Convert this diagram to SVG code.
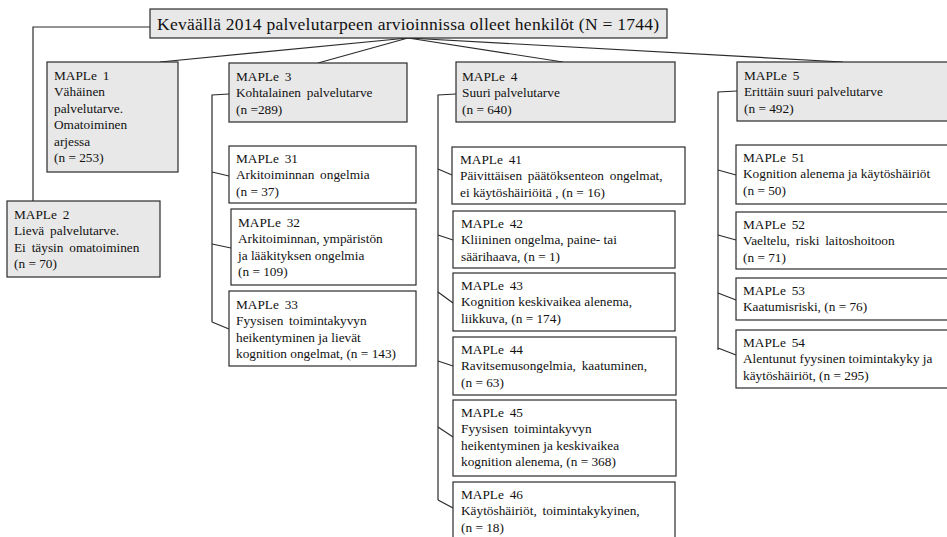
<svg xmlns="http://www.w3.org/2000/svg" width="947" height="537" viewBox="0 0 947 537">
  <style>
    .bg { fill: #ffffff; }
    .main rect { fill: #e8e8e8; stroke: #2b2b2b; stroke-width: 1.2; }
    .sub rect { fill: #ffffff; stroke: #2b2b2b; stroke-width: 1.2; }
    text { font-family: "Liberation Serif", "Times New Roman", serif; font-size: 13.3px; fill: #111111; }
    .title text { font-size: 17.5px; }
    .head { word-spacing: 2.5px; }
    #connectors path { fill: none; stroke: #2b2b2b; stroke-width: 1.2; }
  </style>
  <rect class="bg" x="0" y="0" width="947" height="537"/>

  <!-- connectors: title fan-out and column brackets -->
  <g id="connectors">
    <path d="M150,27 H33 V201"/>
    <path d="M408,38 L160,62"/>
    <path d="M408,38 L318,63"/>
    <path d="M408,38 L563,62"/>
    <path d="M408,38 L843,62"/>
    <!-- MAPLe 3 bracket -->
    <path d="M229,94 L212,95 V322"/>
    <path d="M212,172 L229,176"/>
    <path d="M212,244 L231,248"/>
    <path d="M212,322 L229,329"/>
    <!-- MAPLe 4 bracket -->
    <path d="M456,94 L438,95 V500"/>
    <path d="M438,169 L452,175"/>
    <path d="M438,235 L453,240"/>
    <path d="M438,292 L453,303"/>
    <path d="M438,361 L453,366"/>
    <path d="M438,427 L453,437"/>
    <path d="M438,500 L453,508"/>
    <!-- MAPLe 5 bracket -->
    <path d="M737,91 L718,92 V350"/>
    <path d="M718,170 L736,175"/>
    <path d="M718,235 L736,240"/>
    <path d="M718,293 L736,300"/>
    <path d="M718,348 L736,355"/>
  </g>

  <g id="title" class="main title">
    <rect x="150" y="9" width="517" height="29"/>
    <text x="157" y="30" textLength="502" lengthAdjust="spacing">Keväällä 2014 palvelutarpeen arvioinnissa olleet henkilöt (N = 1744)</text>
  </g>

  <g id="maple1" class="main">
    <rect x="47" y="62" width="131" height="110"/>
    <text x="54" y="80"><tspan class="head">MAPLe 1</tspan><tspan x="54" dy="16.4">Vähäinen</tspan><tspan x="54" dy="16.4">palvelutarve.</tspan><tspan x="54" dy="16.4">Omatoiminen</tspan><tspan x="54" dy="16.4">arjessa</tspan><tspan x="54" dy="16.4">(n = 253)</tspan></text>
  </g>

  <g id="maple2" class="main">
    <rect x="7" y="201" width="153" height="76"/>
    <text x="14" y="219"><tspan class="head">MAPLe 2</tspan><tspan x="14" dy="16.4" class="head">Lievä palvelutarve.</tspan><tspan x="14" dy="16.4" class="head">Ei täysin omatoiminen</tspan><tspan x="14" dy="16.4">(n = 70)</tspan></text>
  </g>

  <g id="maple3" class="main">
    <rect x="229" y="63" width="178" height="59"/>
    <text x="236" y="81"><tspan class="head">MAPLe 3</tspan><tspan x="236" dy="16.4" class="head">Kohtalainen palvelutarve</tspan><tspan x="236" dy="16.4">(n =289)</tspan></text>
  </g>

  <g id="maple31" class="sub">
    <rect x="229" y="146" width="187" height="57"/>
    <text x="236" y="163"><tspan class="head">MAPLe 31</tspan><tspan x="236" dy="16.4" class="head">Arkitoiminnan ongelmia</tspan><tspan x="236" dy="16.4">(n = 37)</tspan></text>
  </g>

  <g id="maple32" class="sub">
    <rect x="231" y="209" width="185" height="76"/>
    <text x="238" y="227"><tspan class="head">MAPLe 32</tspan><tspan x="238" dy="16.4">Arkitoiminnan, ympäristön</tspan><tspan x="238" dy="16.4">ja lääkityksen ongelmia</tspan><tspan x="238" dy="16.4">(n = 109)</tspan></text>
  </g>

  <g id="maple33" class="sub">
    <rect x="229" y="291" width="187" height="75"/>
    <text x="236" y="309"><tspan class="head">MAPLe 33</tspan><tspan x="236" dy="16.4" class="head">Fyysisen toimintakyvyn</tspan><tspan x="236" dy="16.4">heikentyminen ja lievät</tspan><tspan x="236" dy="16.4">kognition ongelmat, (n = 143)</tspan></text>
  </g>

  <g id="maple4" class="main">
    <rect x="456" y="62" width="219" height="60"/>
    <text x="462" y="81"><tspan class="head">MAPLe 4</tspan><tspan x="462" dy="16.4">Suuri palvelutarve</tspan><tspan x="462" dy="16.4">(n = 640)</tspan></text>
  </g>

  <g id="maple41" class="sub">
    <rect x="452" y="147" width="233" height="57"/>
    <text x="460" y="164"><tspan class="head">MAPLe 41</tspan><tspan x="460" dy="16.4" class="head">Päivittäisen päätöksenteon ongelmat,</tspan><tspan x="460" dy="16.4">ei käytöshäiriöitä , (n = 16)</tspan></text>
  </g>

  <g id="maple42" class="sub">
    <rect x="453" y="211" width="222" height="57"/>
    <text x="461" y="228"><tspan class="head">MAPLe 42</tspan><tspan x="461" dy="16.4">Kliininen ongelma, paine- tai</tspan><tspan x="461" dy="16.4">säärihaava, (n = 1)</tspan></text>
  </g>

  <g id="maple43" class="sub">
    <rect x="453" y="273" width="222" height="58"/>
    <text x="461" y="290"><tspan class="head">MAPLe 43</tspan><tspan x="461" dy="16.4">Kognition keskivaikea alenema,</tspan><tspan x="461" dy="16.4">liikkuva, (n = 174)</tspan></text>
  </g>

  <g id="maple44" class="sub">
    <rect x="453" y="337" width="223" height="58"/>
    <text x="461" y="354"><tspan class="head">MAPLe 44</tspan><tspan x="461" dy="16.4" class="head">Ravitsemusongelmia, kaatuminen,</tspan><tspan x="461" dy="16.4">(n = 63)</tspan></text>
  </g>

  <g id="maple45" class="sub">
    <rect x="453" y="400" width="223" height="76"/>
    <text x="461" y="417"><tspan class="head">MAPLe 45</tspan><tspan x="461" dy="16.4" class="head">Fyysisen toimintakyvyn</tspan><tspan x="461" dy="16.4">heikentyminen ja keskivaikea</tspan><tspan x="461" dy="16.4">kognition alenema, (n = 368)</tspan></text>
  </g>

  <g id="maple46" class="sub">
    <rect x="453" y="482" width="222" height="70"/>
    <text x="461" y="499"><tspan class="head">MAPLe 46</tspan><tspan x="461" dy="16.4" class="head">Käytöshäiriöt, toimintakykyinen,</tspan><tspan x="461" dy="16.4">(n = 18)</tspan></text>
  </g>

  <g id="maple5" class="main">
    <rect x="737" y="62" width="220" height="59"/>
    <text x="744" y="80"><tspan class="head">MAPLe 5</tspan><tspan x="744" dy="16.4">Erittäin suuri palvelutarve</tspan><tspan x="744" dy="16.4">(n = 492)</tspan></text>
  </g>

  <g id="maple51" class="sub">
    <rect x="736" y="145" width="221" height="59"/>
    <text x="743" y="162"><tspan class="head">MAPLe 51</tspan><tspan x="743" dy="16.4">Kognition alenema ja käytöshäiriöt</tspan><tspan x="743" dy="16.4">(n = 50)</tspan></text>
  </g>

  <g id="maple52" class="sub">
    <rect x="736" y="212" width="221" height="57"/>
    <text x="743" y="229"><tspan class="head">MAPLe 52</tspan><tspan x="743" dy="16.4" class="head">Vaeltelu, riski laitoshoitoon</tspan><tspan x="743" dy="16.4">(n = 71)</tspan></text>
  </g>

  <g id="maple53" class="sub">
    <rect x="736" y="278" width="221" height="42"/>
    <text x="743" y="295"><tspan class="head">MAPLe 53</tspan><tspan x="743" dy="16.4">Kaatumisriski, (n = 76)</tspan></text>
  </g>

  <g id="maple54" class="sub">
    <rect x="736" y="330" width="221" height="58"/>
    <text x="743" y="347"><tspan class="head">MAPLe 54</tspan><tspan x="743" dy="16.4">Alentunut fyysinen toimintakyky ja</tspan><tspan x="743" dy="16.4">käytöshäiriöt, (n = 295)</tspan></text>
  </g>
</svg>
